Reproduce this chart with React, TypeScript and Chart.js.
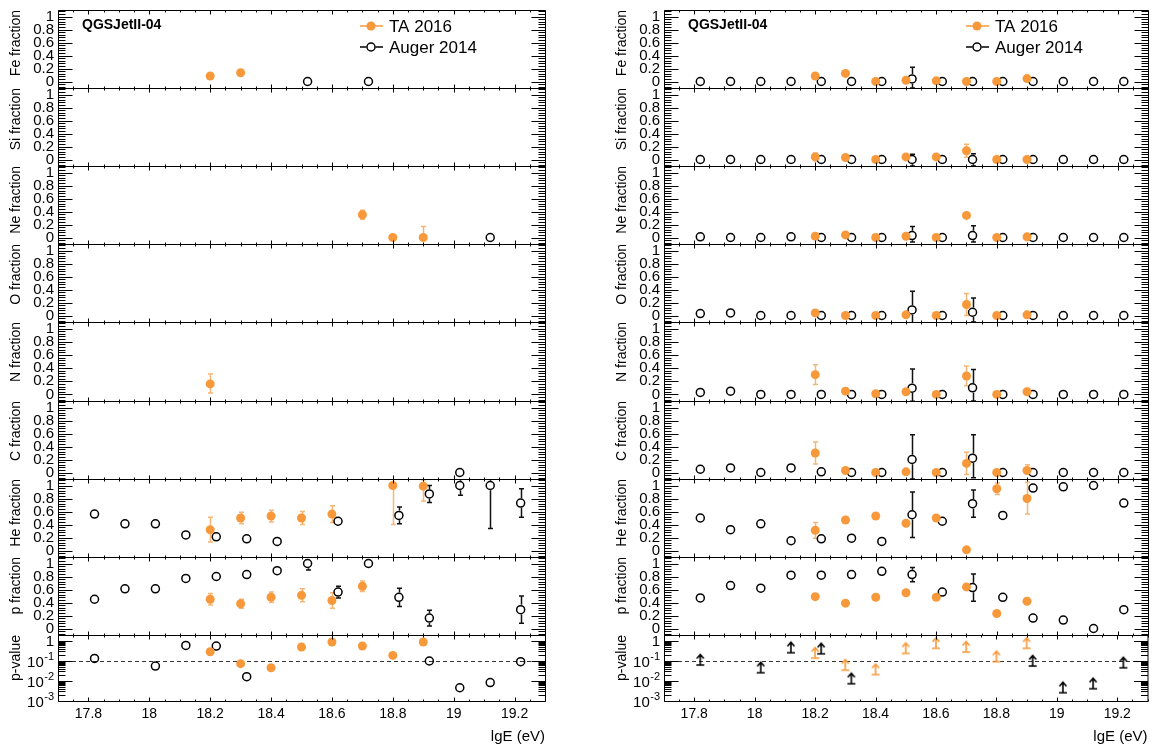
import React, { useEffect, useRef } from 'react';
import { Chart, registerables } from 'chart.js';

Chart.register(...registerables);

const FONT = '"Liberation Sans", Arial, Helvetica, sans-serif';

type Val = number | null;
type Err = number | [number, number] | null;

// ---------- shared axes & labels ----------
const TA_X = [18.2, 18.3, 18.4, 18.5, 18.6, 18.7, 18.8, 18.9];
const AUGER_X = [17.82, 17.92, 18.02, 18.12, 18.22, 18.32, 18.42, 18.52, 18.62, 18.72, 18.82, 18.92, 19.02, 19.12, 19.22];
const X_MIN = 17.7;
const X_MAX = 19.3;
const X_TICKS = [17.8, 18.0, 18.2, 18.4, 18.6, 18.8, 19.0, 19.2];
const FRACTION_MIN = -0.1;
const FRACTION_MAX = 1.1;
const FRACTION_TICKS = [0, 0.2, 0.4, 0.6, 0.8, 1];
const PVALUE_MIN = 0.001;
const PVALUE_MAX = 2;
const PVALUE_TICKS = [0.001, 0.01, 0.1, 1];
const PVALUE_THRESHOLD = 0.1;
const ELEMENTS = ['Fe', 'Si', 'Ne', 'O', 'N', 'C', 'He', 'p'];
const MODEL_LABEL = 'QGSJetII-04';
const TA_LABEL = 'TA 2016';
const AUGER_LABEL = 'Auger 2014';
const X_TITLE = 'lgE (eV)';
const P_TITLE = 'p-value';

const TA_COLOR = '#f7993b';
const TA_ERR_COLOR = '#f8b676';
const AUGER_COLOR = '#000000';

// ---------- left column ----------
const L_TA_FE: Val[] = [0.085, 0.135, null, null, null, null, null, null];
const L_TA_FE_ERR: Err[] = [];
const L_AUG_FE: Val[] = [null, null, null, null, null, null, null, 0, null, 0, null, null, null, null, null];
const L_AUG_FE_ERR: Err[] = [];

const L_TA_SI: Val[] = [null, null, null, null, null, null, null, null];
const L_TA_SI_ERR: Err[] = [];
const L_AUG_SI: Val[] = [null, null, null, null, null, null, null, null, null, null, null, null, null, null, null];
const L_AUG_SI_ERR: Err[] = [];

const L_TA_NE: Val[] = [null, null, null, null, null, 0.35, 0, 0];
const L_TA_NE_ERR: Err[] = [null, null, null, null, null, 0.07, null, [0, 0.17]];
const L_AUG_NE: Val[] = [null, null, null, null, null, null, null, null, null, null, null, null, null, 0, null];
const L_AUG_NE_ERR: Err[] = [];

const L_TA_O: Val[] = [null, null, null, null, null, null, null, null];
const L_TA_O_ERR: Err[] = [];
const L_AUG_O: Val[] = [null, null, null, null, null, null, null, null, null, null, null, null, null, null, null];
const L_AUG_O_ERR: Err[] = [];

const L_TA_N: Val[] = [0.16, null, null, null, null, null, null, null];
const L_TA_N_ERR: Err[] = [[0.14, 0.15]];
const L_AUG_N: Val[] = [null, null, null, null, null, null, null, null, null, null, null, null, null, null, null];
const L_AUG_N_ERR: Err[] = [];

const L_TA_C: Val[] = [null, null, null, null, null, null, null, null];
const L_TA_C_ERR: Err[] = [];
const L_AUG_C: Val[] = [null, null, null, null, null, null, null, null, null, null, null, null, 0, null, null];
const L_AUG_C_ERR: Err[] = [];

const L_TA_HE: Val[] = [0.32, 0.5, 0.53, 0.5, 0.56, null, 1.0, 0.99];
const L_TA_HE_ERR: Err[] = [0.19, 0.09, 0.09, 0.1, 0.13, null, [0.6, 0.1], [0.23, 0.1]];
const L_AUG_HE: Val[] = [0.56, 0.41, 0.41, 0.24, 0.21, 0.18, 0.14, null, 0.45, null, 0.54, 0.87, 1.0, 1.0, 0.73];
const L_AUG_HE_ERR: Err[] = [null, null, null, null, null, null, null, null, 0.07, null, 0.13, 0.13, [0.15, 0.1], [0.66, 0.1], 0.22];

const L_TA_P: Val[] = [0.45, 0.38, 0.48, 0.51, 0.43, 0.65, null, null];
const L_TA_P_ERR: Err[] = [0.09, 0.07, 0.08, 0.1, 0.12, 0.08, null, null];
const L_AUG_P: Val[] = [0.45, 0.61, 0.61, 0.77, 0.8, 0.83, 0.89, 1.0, 0.56, 1.0, 0.48, 0.16, null, null, 0.29];
const L_AUG_P_ERR: Err[] = [null, null, null, null, null, null, 0.04, [0.1, 0.05], 0.09, 0.04, 0.14, 0.12, null, null, 0.21];

const L_TA_PVAL: Val[] = [0.29, 0.074, 0.046, 0.5, 0.89, 0.56, 0.19, 0.89];
const L_AUG_PVAL: Val[] = [0.135, null, 0.056, 0.6, 0.56, 0.0165, null, null, null, null, null, 0.1, 0.0046, 0.0083, 0.093];

// ---------- right column ----------
const R_TA_FE: Val[] = [0.085, 0.125, 0, 0.02, 0.01, 0, 0, 0.045];
const R_TA_FE_ERR: Err[] = [];
const R_AUG_FE: Val[] = [0, 0, 0, 0, 0, 0, 0, 0.04, 0, 0, 0, 0, 0, 0, 0];
const R_AUG_FE_ERR: Err[] = [null, null, null, null, null, null, null, [0.14, 0.18]];

const R_TA_SI: Val[] = [0.04, 0.03, 0, 0.04, 0.04, 0.135, 0, 0];
const R_TA_SI_ERR: Err[] = [0.06, null, null, null, null, 0.1];
const R_AUG_SI: Val[] = [0, 0, 0, 0, 0, 0, 0, 0, 0, 0, 0, 0, 0, 0, 0];
const R_AUG_SI_ERR: Err[] = [null, null, null, null, null, null, null, [0.1, 0.08], null, [0.1, 0.09]];

const R_TA_NE: Val[] = [0.02, 0.04, 0, 0.02, 0, 0.34, 0, 0.01];
const R_TA_NE_ERR: Err[] = [null, null, null, null, null, 0.03];
const R_AUG_NE: Val[] = [0.01, 0, 0, 0.01, 0, 0, 0, 0.03, 0, 0.03, 0, 0, 0, 0, 0];
const R_AUG_NE_ERR: Err[] = [null, null, null, null, null, null, null, [0.1, 0.14], null, [0.1, 0.15]];

const R_TA_O: Val[] = [0.04, 0, 0, 0.01, 0, 0.17, 0, 0.01];
const R_TA_O_ERR: Err[] = [null, null, null, null, null, 0.17];
const R_AUG_O: Val[] = [0.03, 0.04, 0, 0, 0, 0, 0, 0.085, 0, 0.05, 0, 0, 0, 0, 0];
const R_AUG_O_ERR: Err[] = [null, null, null, null, null, null, null, [0.2, 0.29], null, [0.15, 0.22]];

const R_TA_N: Val[] = [0.3, 0.05, 0.01, 0.04, 0, 0.28, 0, 0.04];
const R_TA_N_ERR: Err[] = [0.15, null, null, null, null, 0.15, null, 0.05];
const R_AUG_N: Val[] = [0.03, 0.05, 0, 0, 0, 0, 0, 0.095, 0, 0.1, 0, 0, 0, 0, 0];
const R_AUG_N_ERR: Err[] = [null, null, null, null, null, null, null, [0.2, 0.29], null, [0.2, 0.28]];

const R_TA_C: Val[] = [0.3, 0.03, 0, 0.01, 0, 0.14, 0, 0.03];
const R_TA_C_ERR: Err[] = [0.17, null, null, null, null, 0.17, null, [0.05, 0.09]];
const R_AUG_C: Val[] = [0.05, 0.07, 0, 0.07, 0.01, 0, 0, 0.2, 0, 0.22, 0, 0, 0, 0, 0];
const R_AUG_C_ERR: Err[] = [null, null, null, null, null, null, null, [0.3, 0.38], null, [0.3, 0.36]];

const R_TA_HE: Val[] = [0.31, 0.47, 0.53, 0.42, 0.5, 0.01, 0.95, 0.8];
const R_TA_HE_ERR: Err[] = [0.12, null, null, null, null, null, 0.09, [0.24, 0.25]];
const R_AUG_HE: Val[] = [0.5, 0.32, 0.41, 0.15, 0.18, 0.19, 0.14, 0.55, 0.45, 0.72, 0.54, 0.96, 0.98, 1.0, 0.73];
const R_AUG_HE_ERR: Err[] = [null, null, null, null, null, null, null, 0.35, null, 0.21];

const R_TA_P: Val[] = [0.49, 0.39, 0.48, 0.55, 0.48, 0.64, 0.23, 0.42];
const R_TA_P_ERR: Err[] = [];
const R_AUG_P: Val[] = [0.47, 0.66, 0.62, 0.82, 0.82, 0.83, 0.88, 0.83, 0.56, 0.63, 0.48, 0.16, 0.13, 0, 0.29];
const R_AUG_P_ERR: Err[] = [null, null, null, null, null, null, null, 0.11, null, 0.21];

const R_TA_PVAL: Val[] = [0.14, 0.035, 0.021, 0.24, 0.43, 0.28, 0.093, 0.43];
const R_AUG_PVAL: Val[] = [0.063, null, 0.026, 0.26, 0.23, 0.0073, null, null, null, null, null, 0.056, 0.0026, 0.0041, 0.046];

// ---------- layout (pixels) ----------
const FRAME_TOPS = [10, 88, 166, 244, 322, 401, 479, 557, 635];
const FRAME_BOTTOM = 701;
const PAGE_H = 747;
const AXIS_W = 58;
const EXTRA = 10;

type FracPanel = { ta: Val[]; taErr: Err[]; aug: Val[]; augErr: Err[] };

const LEFT_FRAC: FracPanel[] = [
  { ta: L_TA_FE, taErr: L_TA_FE_ERR, aug: L_AUG_FE, augErr: L_AUG_FE_ERR },
  { ta: L_TA_SI, taErr: L_TA_SI_ERR, aug: L_AUG_SI, augErr: L_AUG_SI_ERR },
  { ta: L_TA_NE, taErr: L_TA_NE_ERR, aug: L_AUG_NE, augErr: L_AUG_NE_ERR },
  { ta: L_TA_O, taErr: L_TA_O_ERR, aug: L_AUG_O, augErr: L_AUG_O_ERR },
  { ta: L_TA_N, taErr: L_TA_N_ERR, aug: L_AUG_N, augErr: L_AUG_N_ERR },
  { ta: L_TA_C, taErr: L_TA_C_ERR, aug: L_AUG_C, augErr: L_AUG_C_ERR },
  { ta: L_TA_HE, taErr: L_TA_HE_ERR, aug: L_AUG_HE, augErr: L_AUG_HE_ERR },
  { ta: L_TA_P, taErr: L_TA_P_ERR, aug: L_AUG_P, augErr: L_AUG_P_ERR },
];
const RIGHT_FRAC: FracPanel[] = [
  { ta: R_TA_FE, taErr: R_TA_FE_ERR, aug: R_AUG_FE, augErr: R_AUG_FE_ERR },
  { ta: R_TA_SI, taErr: R_TA_SI_ERR, aug: R_AUG_SI, augErr: R_AUG_SI_ERR },
  { ta: R_TA_NE, taErr: R_TA_NE_ERR, aug: R_AUG_NE, augErr: R_AUG_NE_ERR },
  { ta: R_TA_O, taErr: R_TA_O_ERR, aug: R_AUG_O, augErr: R_AUG_O_ERR },
  { ta: R_TA_N, taErr: R_TA_N_ERR, aug: R_AUG_N, augErr: R_AUG_N_ERR },
  { ta: R_TA_C, taErr: R_TA_C_ERR, aug: R_AUG_C, augErr: R_AUG_C_ERR },
  { ta: R_TA_HE, taErr: R_TA_HE_ERR, aug: R_AUG_HE, augErr: R_AUG_HE_ERR },
  { ta: R_TA_P, taErr: R_TA_P_ERR, aug: R_AUG_P, augErr: R_AUG_P_ERR },
];

type Spec = {
  key: string;
  left: number;
  top: number;
  width: number;
  height: number;
  padTop: number;
  padBottom: number;
  padRight: number;
  kind: 'frac' | 'pval';
  title: string;
  ta: Val[];
  taErr: Err[];
  aug: Val[];
  augErr: Err[];
  arrows: boolean;
  legend: boolean;
  showX: boolean;
};

function toPoints(xs: number[], vals: Val[], errs: Err[]) {
  const pts: { x: number; y: number; err: Err }[] = [];
  xs.forEach((x, i) => {
    const v = vals[i];
    if (v === null || v === undefined) return;
    pts.push({ x, y: v, err: errs[i] ?? null });
  });
  return pts;
}

function makeArrow(color: string): HTMLCanvasElement {
  const c = document.createElement('canvas');
  c.width = 12;
  c.height = 26;
  const g = c.getContext('2d')!;
  g.strokeStyle = color;
  g.lineWidth = 1.6;
  const cx = 6;
  const base = 13;
  const tip = 2.5;
  g.beginPath();
  g.moveTo(2, base);
  g.lineTo(10, base);
  g.moveTo(cx, base);
  g.lineTo(cx, tip);
  g.moveTo(cx - 3.5, tip + 4);
  g.lineTo(cx, tip);
  g.lineTo(cx + 3.5, tip + 4);
  g.stroke();
  return c;
}

const fmt1 = (v: number) => String(Math.round(v * 10) / 10);

function buildChart(canvas: HTMLCanvasElement, s: Spec) {
  const isP = s.kind === 'pval';
  const taPts = toPoints(TA_X, s.ta, s.taErr);
  const augPts = toPoints(AUGER_X, s.aug, s.augErr);
  const arrowTA = s.arrows ? makeArrow(TA_COLOR) : null;
  const arrowAug = s.arrows ? makeArrow(AUGER_COLOR) : null;

  const plugin = {
    id: 'rootStyle',
    beforeDatasetsDraw(chart: any) {
      const { ctx, chartArea: a, scales } = chart;
      const y = scales.y;
      ctx.save();
      ctx.beginPath();
      ctx.rect(a.left, a.top, a.right - a.left, a.bottom - a.top);
      ctx.clip();
      if (isP) {
        const py = Math.round(y.getPixelForValue(PVALUE_THRESHOLD)) + 0.5;
        ctx.setLineDash([4, 3]);
        ctx.strokeStyle = '#333';
        ctx.lineWidth = 1;
        ctx.beginPath();
        ctx.moveTo(a.left, py);
        ctx.lineTo(a.right, py);
        ctx.stroke();
        ctx.setLineDash([]);
      }
      chart.data.datasets.forEach((ds: any, di: number) => {
        const meta = chart.getDatasetMeta(di);
        const color = di === 0 ? TA_ERR_COLOR : '#111';
        const gap = di === 0 ? 0 : 4.8;
        ctx.strokeStyle = color;
        ctx.lineWidth = 1.5;
        ds.data.forEach((p: any, i: number) => {
          if (p.err === null || p.err === undefined) return;
          const [lo, hi] = Array.isArray(p.err) ? p.err : [p.err, p.err];
          const el = meta.data[i];
          const px = Math.round(el.x) + 0.5;
          const py = el.y;
          const yl = y.getPixelForValue(p.y - lo);
          const yh = y.getPixelForValue(p.y + hi);
          ctx.beginPath();
          if (yh < py - gap) {
            ctx.moveTo(px, py - gap);
            ctx.lineTo(px, yh);
            ctx.moveTo(px - 2.5, yh);
            ctx.lineTo(px + 2.5, yh);
          }
          if (yl > py + gap) {
            ctx.moveTo(px, py + gap);
            ctx.lineTo(px, yl);
            ctx.moveTo(px - 2.5, yl);
            ctx.lineTo(px + 2.5, yl);
          }
          ctx.stroke();
        });
      });
      ctx.restore();
    },
    afterDraw(chart: any) {
      const { ctx, chartArea: a, scales } = chart;
      const x = scales.x;
      const y = scales.y;
      const L = a.left + 0.5;
      const R = a.right + 0.5;
      const T = a.top + 0.5;
      const B = a.bottom + 0.5;
      ctx.save();
      ctx.strokeStyle = '#000';
      ctx.lineWidth = 1;
      ctx.beginPath();
      ctx.rect(L, T, R - L, B - T);
      // x ticks (top and bottom, inward)
      for (let k = 0; k <= 32; k++) {
        const v = X_MIN + 0.05 * k;
        const major = (k - 2) % 4 === 0;
        const len = major ? 4 : 2;
        const px = Math.round(x.getPixelForValue(v)) + 0.5;
        ctx.moveTo(px, T);
        ctx.lineTo(px, T + len);
        ctx.moveTo(px, B);
        ctx.lineTo(px, B - len);
      }
      // y ticks (left and right, inward)
      const yTick = (v: number, len: number) => {
        const py = Math.round(y.getPixelForValue(v)) + 0.5;
        ctx.moveTo(L, py);
        ctx.lineTo(L + len, py);
        ctx.moveTo(R, py);
        ctx.lineTo(R - len, py);
      };
      if (!isP) {
        for (let k = -2; k <= 27; k++) {
          yTick(0.04 * k, k % 5 === 0 ? 14 : 7);
        }
      } else {
        for (let e = -3; e <= 0; e++) {
          for (let m = 1; m <= 9; m++) {
            const v = m * Math.pow(10, e);
            if (v > PVALUE_MAX) break;
            yTick(v, m === 1 ? 14 : 7);
          }
        }
      }
      ctx.stroke();

      ctx.fillStyle = '#000';
      if (isP) {
        // decade labels 1, 10^-1, ...
        const xr = a.left - 4;
        PVALUE_TICKS.forEach((v) => {
          const py = y.getPixelForValue(v);
          const e = Math.round(Math.log10(v));
          ctx.textBaseline = 'middle';
          if (e === 0) {
            ctx.font = `15px ${FONT}`;
            ctx.textAlign = 'right';
            ctx.fillText('1', xr, py + 1);
          } else {
            const sup = String(e);
            ctx.font = `11px ${FONT}`;
            ctx.textAlign = 'right';
            const sw = ctx.measureText(sup).width;
            ctx.fillText(sup, xr, py - 4);
            ctx.font = `15px ${FONT}`;
            ctx.fillText('10', xr - sw - 0.5, py + 2);
          }
        });
      }

      if (s.legend) {
        const lx = a.left;
        const y1 = a.top + 16;
        const y2 = a.top + 37;
        const mx = lx + 313;
        const l0 = lx + 302;
        const l1 = lx + 325;
        const tx = lx + 331;
        ctx.lineWidth = 1.5;
        ctx.strokeStyle = TA_COLOR;
        ctx.beginPath();
        ctx.moveTo(l0, y1);
        ctx.lineTo(l1, y1);
        ctx.stroke();
        ctx.fillStyle = TA_COLOR;
        ctx.beginPath();
        ctx.arc(mx, y1, 4.5, 0, Math.PI * 2);
        ctx.fill();
        ctx.strokeStyle = AUGER_COLOR;
        ctx.beginPath();
        ctx.moveTo(l0, y2);
        ctx.lineTo(mx - 4.5, y2);
        ctx.moveTo(mx + 4.5, y2);
        ctx.lineTo(l1, y2);
        ctx.stroke();
        ctx.beginPath();
        ctx.arc(mx, y2, 4, 0, Math.PI * 2);
        ctx.stroke();
        ctx.fillStyle = '#000';
        ctx.font = `17px ${FONT}`;
        ctx.textAlign = 'left';
        ctx.textBaseline = 'middle';
        ctx.fillText(TA_LABEL, tx, y1 + 1);
        ctx.fillText(AUGER_LABEL, tx, y2 + 1);
        ctx.font = `bold 14px ${FONT}`;
        ctx.fillText(MODEL_LABEL, lx + 24, a.top + 15);
      }
      ctx.restore();
    },
  };

  const yScale: any = isP
    ? {
        type: 'logarithmic',
        position: 'left',
        min: PVALUE_MIN,
        max: PVALUE_MAX,
        grid: { display: false, drawTicks: false, tickLength: 0 },
        border: { display: false },
        ticks: { display: false },
        afterBuildTicks: (sc: any) => {
          sc.ticks = PVALUE_TICKS.map((value) => ({ value }));
        },
      }
    : {
        type: 'linear',
        position: 'left',
        min: FRACTION_MIN,
        max: FRACTION_MAX,
        grid: { display: false, drawTicks: false, tickLength: 0 },
        border: { display: false },
        ticks: {
          color: '#000',
          font: { size: 15, family: FONT },
          padding: 4,
          autoSkip: false,
          callback: (v: any) => fmt1(Number(v)),
        },
        afterBuildTicks: (sc: any) => {
          sc.ticks = FRACTION_TICKS.map((value) => ({ value }));
        },
      };
  yScale.title = {
    display: true,
    text: s.title,
    align: 'end',
    color: '#000',
    font: { size: 14, family: FONT },
    padding: { top: 7.6, bottom: 0 },
  };
  yScale.afterFit = (sc: any) => {
    sc.width = AXIS_W;
    sc.paddingTop = 0;
    sc.paddingBottom = 0;
  };

  const xScale: any = {
    type: 'linear',
    position: 'bottom',
    min: X_MIN,
    max: X_MAX,
    display: s.showX,
    grid: { display: false, drawTicks: false, tickLength: 0 },
    border: { display: false },
    ticks: {
      color: '#000',
      font: { size: 14, family: FONT },
      padding: 5,
      autoSkip: false,
      maxRotation: 0,
      callback: (v: any) => fmt1(Number(v)),
    },
    afterBuildTicks: (sc: any) => {
      sc.ticks = X_TICKS.map((value) => ({ value }));
    },
    title: {
      display: s.showX,
      text: X_TITLE,
      align: 'end',
      color: '#000',
      font: { size: 15, family: FONT },
      padding: { top: 0, bottom: 1 },
    },
  };
  if (s.showX) {
    xScale.afterFit = (sc: any) => {
      sc.height = PAGE_H - FRAME_BOTTOM;
      sc.paddingLeft = 0;
      sc.paddingRight = 0;
    };
  }

  return new Chart(canvas, {
    type: 'scatter',
    data: {
      datasets: [
        {
          label: TA_LABEL,
          data: taPts,
          pointStyle: (arrowTA as any) || 'circle',
          pointRadius: s.arrows ? 6 : 4.5,
          backgroundColor: TA_COLOR,
          borderColor: TA_COLOR,
          borderWidth: 0,
        },
        {
          label: AUGER_LABEL,
          data: augPts,
          pointStyle: (arrowAug as any) || 'circle',
          pointRadius: s.arrows ? 6 : 4,
          backgroundColor: 'rgba(0,0,0,0)',
          borderColor: AUGER_COLOR,
          borderWidth: 1.5,
        },
      ] as any,
    },
    options: {
      animation: false,
      responsive: false,
      maintainAspectRatio: false,
      devicePixelRatio: 1,
      events: [],
      layout: { padding: { left: 0, right: s.padRight, top: s.padTop, bottom: s.padBottom } },
      plugins: { legend: { display: false }, tooltip: { enabled: false }, title: { display: false } },
      scales: { x: xScale, y: yScale },
    } as any,
    plugins: [plugin],
  });
}

function Panel({ spec }: { spec: Spec }) {
  const ref = useRef<HTMLCanvasElement>(null);
  useEffect(() => {
    if (!ref.current) return;
    const chart = buildChart(ref.current, spec);
    return () => chart.destroy();
  }, []);
  return (
    <canvas
      ref={ref}
      width={spec.width}
      height={spec.height}
      style={{ position: 'absolute', left: spec.left, top: spec.top, width: spec.width, height: spec.height }}
    />
  );
}

function buildSpecs(): Spec[] {
  const cols = [
    { name: 'L', left: 0, width: 560, padRight: 15, frac: LEFT_FRAC, taP: L_TA_PVAL, augP: L_AUG_PVAL, arrows: false },
    { name: 'R', left: 606, width: 549, padRight: 7, frac: RIGHT_FRAC, taP: R_TA_PVAL, augP: R_AUG_PVAL, arrows: true },
  ];
  const specs: Spec[] = [];
  cols.forEach((c) => {
    c.frac.forEach((f, i) => {
      const top = FRAME_TOPS[i];
      const bottom = FRAME_TOPS[i + 1];
      specs.push({
        key: `${c.name}${i}`,
        left: c.left,
        top: top - EXTRA,
        width: c.width,
        height: bottom - top + 2 * EXTRA,
        padTop: EXTRA,
        padBottom: EXTRA,
        padRight: c.padRight,
        kind: 'frac',
        title: `${ELEMENTS[i]} fraction`,
        ta: f.ta,
        taErr: f.taErr,
        aug: f.aug,
        augErr: f.augErr,
        arrows: false,
        legend: i === 0,
        showX: false,
      });
    });
    const pTop = FRAME_TOPS[8];
    specs.push({
      key: `${c.name}p`,
      left: c.left,
      top: pTop - EXTRA,
      width: c.width,
      height: PAGE_H - (pTop - EXTRA),
      padTop: EXTRA,
      padBottom: 0,
      padRight: c.padRight,
      kind: 'pval',
      title: P_TITLE,
      ta: c.taP,
      taErr: [],
      aug: c.augP,
      augErr: [],
      arrows: c.arrows,
      legend: false,
      showX: true,
    });
  });
  return specs;
}

export default function App() {
  const specs = buildSpecs();
  return (
    <div
      style={{
        position: 'fixed',
        left: 0,
        top: 0,
        width: 1155,
        height: PAGE_H,
        background: '#ffffff',
        overflow: 'hidden',
      }}
    >
      {specs.map((s) => (
        <Panel key={s.key} spec={s} />
      ))}
    </div>
  );
}
